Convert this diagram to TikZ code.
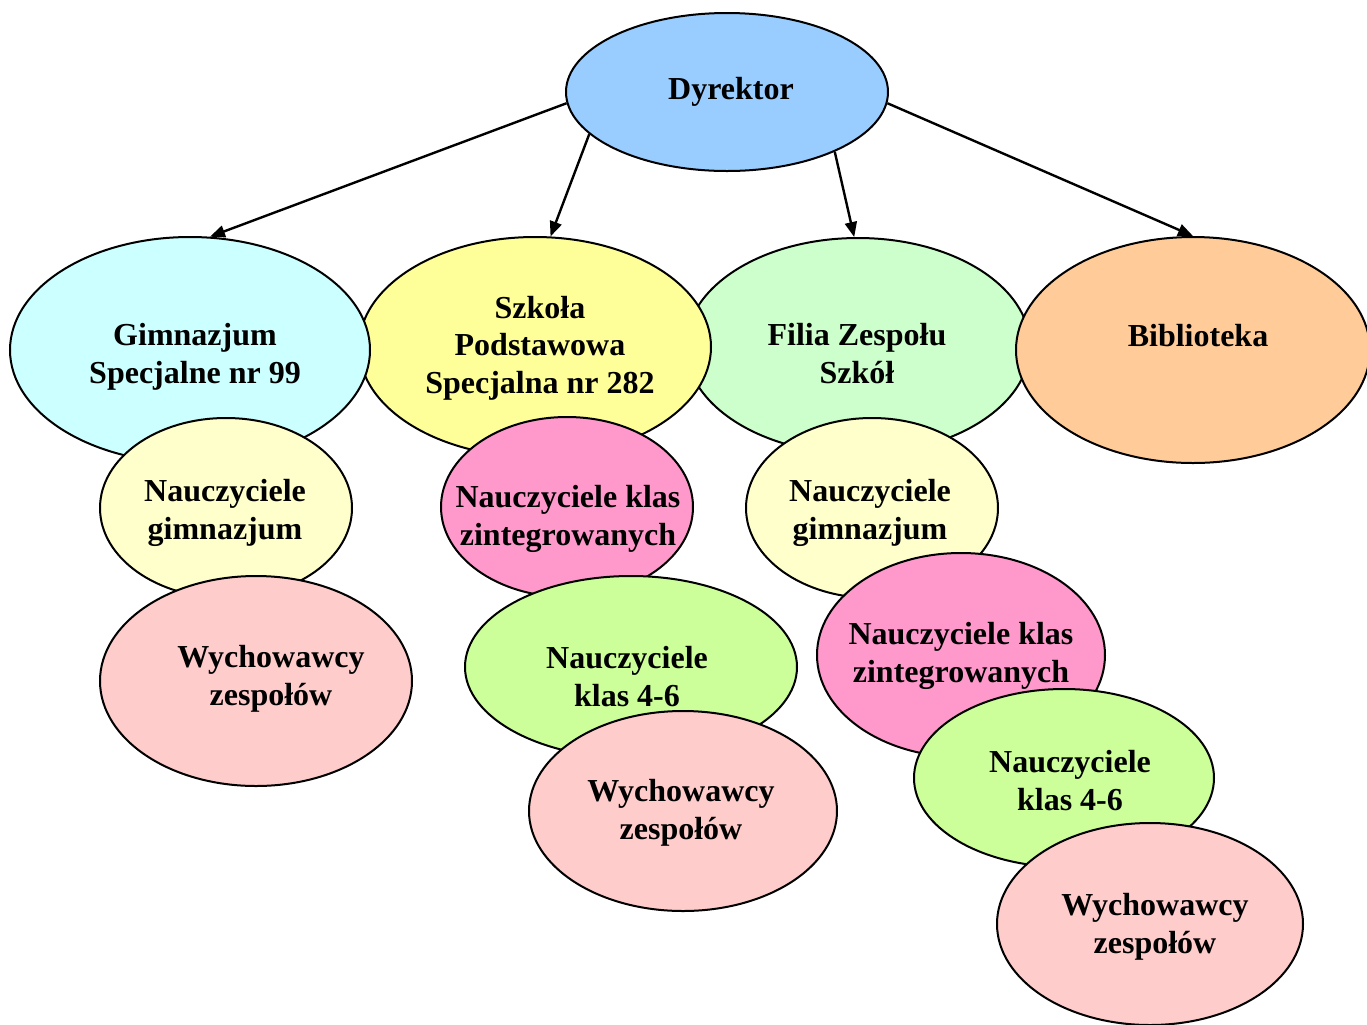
\documentclass[tikz,border=0pt]{standalone}
\usepackage{fontspec}
\setmainfont{Liberation Serif}
\usetikzlibrary{shapes.geometric,arrows.meta}
\definecolor{headblue}{HTML}{99CCFF}
\definecolor{gimcyan}{HTML}{CCFFFF}
\definecolor{spyellow}{HTML}{FFFF99}
\definecolor{filiagreen}{HTML}{CCFFCC}
\definecolor{liborange}{HTML}{FFCC99}
\definecolor{teachcream}{HTML}{FFFFCC}
\definecolor{tutorpink}{HTML}{FFCCCC}
\definecolor{intpink}{HTML}{FF99CC}
\definecolor{lime}{HTML}{CCFF99}

\begin{document}
\begin{tikzpicture}[x=0.5pt, y=-0.5pt,
  bubble/.style={ellipse, draw, line width=1pt, inner sep=0pt},
  caption/.style={font=\bfseries\fontsize{16}{18.75}\selectfont, align=center, inner sep=0pt, anchor=base},
  link/.style={line width=1.2pt, -{Triangle[length=7.5pt,width=6pt]}}]
  \useasboundingbox (0,0) rectangle (1367,1024);

  % top row
  \node [bubble, fill=filiagreen, minimum width=172pt, minimum height=108pt] (filia) at (858,346) {};
  \node [caption] (filiaT) at (857,383) {Filia Zespołu\\Szkół};
  \node [bubble, fill=spyellow, minimum width=176pt, minimum height=110pt] (szkola) at (535,347) {};
  \node [caption] (szkolaT) at (540,393) {Szkoła\\Podstawowa\\Specjalna nr 282};
  \node [bubble, fill=gimcyan, minimum width=180pt, minimum height=113pt] (gim) at (190,350) {};
  \node [caption] (gimT) at (195,383) {Gimnazjum\\Specjalne nr 99};
  \node [bubble, fill=liborange, minimum width=177pt, minimum height=113pt] (bib) at (1193,350) {};
  \node [caption] (bibT) at (1198,346) {Biblioteka};

  \node [bubble, fill=headblue, minimum width=161pt, minimum height=79pt] (dyr) at (727,92) {};
  \node [caption] (dyrT) at (731,99) {Dyrektor};

  \draw [link] (dyr.184) -- (gim.80);
  \draw [link] (dyr.197) -- (szkola.82);
  \draw [link] (dyr.331) -- (filia.92);
  \draw [link] (dyr.356) -- (bib.north);

  % gimnazjum column
  \node [bubble, fill=teachcream, minimum width=126pt, minimum height=90pt] (gimA) at (226,508) {};
  \node [caption] (gimAT) at (225,539) {Nauczyciele\\gimnazjum};
  \node [bubble, fill=tutorpink, minimum width=156pt, minimum height=105pt] (gimB) at (256,681) {};
  \node [caption] (gimBT) at (271,705) {Wychowawcy\\zespołów};

  % szkola column
  \node [bubble, fill=intpink, minimum width=126pt, minimum height=90pt] (szkA) at (567,507) {};
  \node [caption] (szkAT) at (568,545) {Nauczyciele klas\\zintegrowanych};
  \node [bubble, fill=lime, minimum width=166pt, minimum height=91pt] (szkB) at (631,667) {};
  \node [caption] (szkBT) at (627,706) {Nauczyciele\\klas 4-6};
  \node [bubble, fill=tutorpink, minimum width=154pt, minimum height=100pt] (szkC) at (683,811) {};
  \node [caption] (szkCT) at (681,839) {Wychowawcy\\zespołów};

  % filia column
  \node [bubble, fill=teachcream, minimum width=126pt, minimum height=90pt] (filA) at (872,508) {};
  \node [caption] (filAT) at (870,539) {Nauczyciele\\gimnazjum};
  \node [bubble, fill=intpink, minimum width=144pt, minimum height=102pt] (filB) at (961,655) {};
  \node [caption] (filBT) at (961,682) {Nauczyciele klas\\zintegrowanych};
  \node [bubble, fill=lime, minimum width=150pt, minimum height=89pt] (filC) at (1064,778) {};
  \node [caption] (filCT) at (1070,810) {Nauczyciele\\klas 4-6};
  \node [bubble, fill=tutorpink, minimum width=153pt, minimum height=101pt] (filD) at (1150,924) {};
  \node [caption] (filDT) at (1155,953) {Wychowawcy\\zespołów};
\end{tikzpicture}
\end{document}
